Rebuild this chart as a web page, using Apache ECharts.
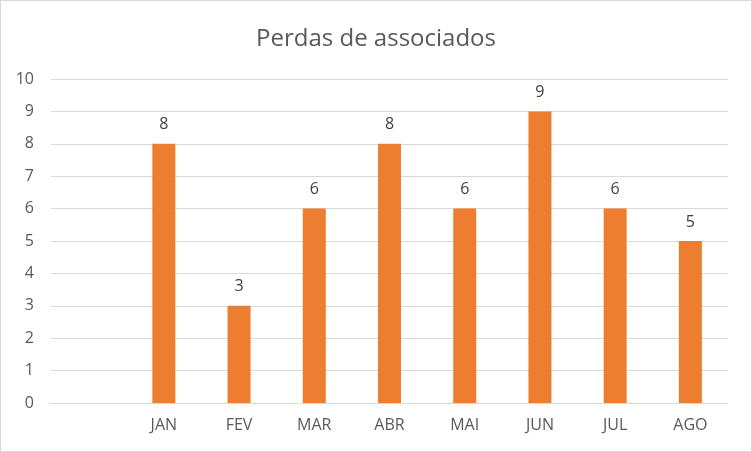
<!DOCTYPE html>
<html><head><meta charset="utf-8">
<script src="https://cdn.jsdelivr.net/npm/echarts@6/dist/echarts.min.js"></script>
<style>html,body{margin:0;padding:0;background:#fff}#c{width:752px;height:452px;box-sizing:border-box;border:1px solid #d9d9d9}</style>
</head><body><div id="c"></div>
<script>
const categories = ['', 'JAN', 'FEV', 'MAR', 'ABR', 'MAI', 'JUN', 'JUL', 'AGO'];
const values = [null, 8, 3, 6, 8, 6, 9, 6, 5];
const chart = echarts.init(document.getElementById('c'));
const font = 'Open Sans, Noto Sans, sans-serif';
chart.setOption({
  animation: false,
  title: { text: 'Perdas de associados', left: 'center', top: 21,
    textStyle: { fontFamily: font, fontSize: 24, fontWeight: 'normal', color: '#595959' } },
  grid: { left: 50, right: 23, top: 78, bottom: 48 },
  xAxis: { type: 'category', data: categories,
    axisLine: { lineStyle: { color: '#d9d9d9' } }, axisTick: { show: false },
    axisLabel: { fontFamily: font, fontSize: 16, color: '#595959', margin: 14 } },
  yAxis: { type: 'value', min: 0, max: 10, interval: 1,
    axisLine: { show: false }, axisTick: { show: false },
    splitLine: { lineStyle: { color: '#d9d9d9' } },
    axisLabel: { fontFamily: font, fontSize: 16, color: '#595959', margin: 17 } },
  series: [{ type: 'bar', data: values, barWidth: 23,
    itemStyle: { color: '#ED7D31' },
    label: { show: true, position: 'top', distance: 11, fontFamily: font, fontSize: 16, color: '#404040' } }]
});
</script></body></html>
